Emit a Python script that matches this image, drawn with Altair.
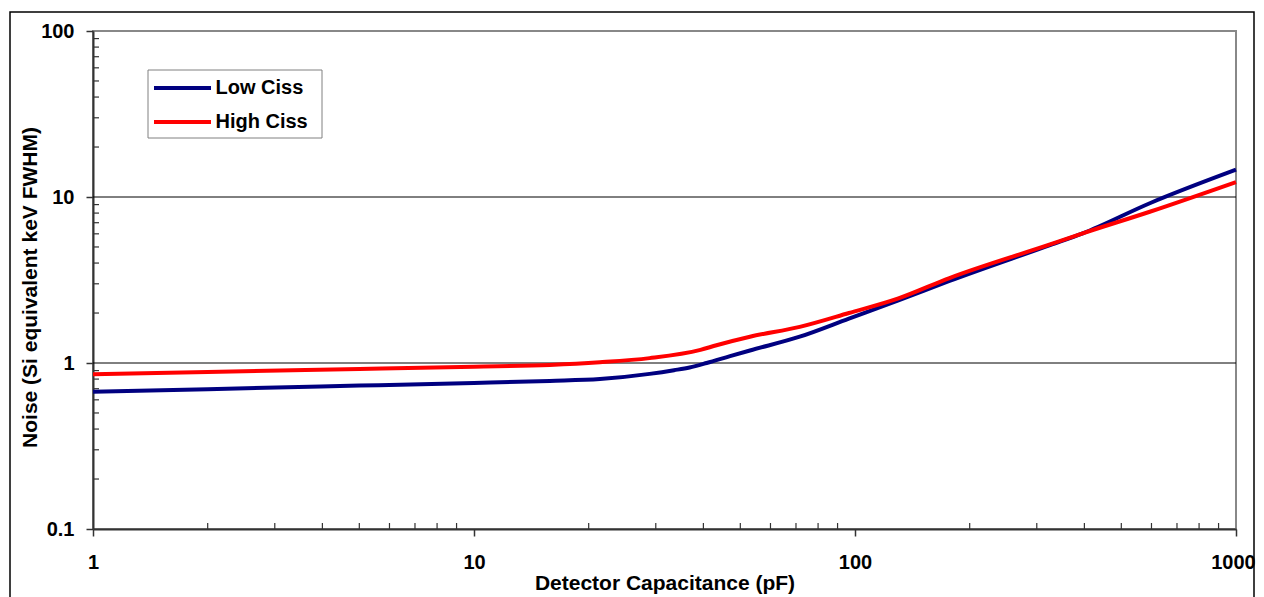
import altair as alt
import pandas as pd

# Detector capacitance (pF) sample points
cap_low = [1, 2, 5, 10, 15.8, 21.4, 28.9, 33.5, 36.8, 40.8, 47, 53, 71.6, 96.4, 130, 177, 325, 396, 594, 1000]
noise_low = [0.67, 0.695, 0.731, 0.759, 0.78, 0.80, 0.86, 0.905, 0.94, 1.0, 1.1, 1.19, 1.44, 1.85, 2.38, 3.12, 5.13, 6.04, 9.17, 14.6]
cap_high = [1, 2, 5, 10, 15.8, 21.4, 28.9, 39.3, 43.3, 53, 71.6, 96.4, 130, 177, 325, 396, 594, 1000]
noise_high = [0.855, 0.883, 0.921, 0.95, 0.973, 1.01, 1.07, 1.20, 1.28, 1.44, 1.65, 2.0, 2.45, 3.25, 5.18, 6.04, 8.15, 12.3]
series_names = ["Low Ciss", "High Ciss"]
series_colors = ["#000080", "#FF0000"]

x_major = [1, 10, 100, 1000]
y_major = [0.1, 1, 10, 100]
x_minor = [2, 3, 4, 5, 6, 7, 8, 9, 20, 30, 40, 50, 60, 70, 80, 90, 200, 300, 400, 500, 600, 700, 800, 900]
y_minor = [0.2, 0.3, 0.4, 0.5, 0.6, 0.7, 0.8, 0.9, 2, 3, 4, 5, 6, 7, 8, 9, 20, 30, 40, 50, 60, 70, 80, 90]
y_grid = [1, 10]

W, H = 1143, 498
FONT = "Liberation Sans"

df = pd.DataFrame({
    "cap": cap_low + cap_high,
    "noise": noise_low + noise_high,
    "series": [series_names[0]] * len(cap_low) + [series_names[1]] * len(cap_high),
})

x_scale = alt.Scale(type="log", domain=[1, 1000])
y_scale = alt.Scale(type="log", domain=[0.1, 100])

x_axis = alt.Axis(values=x_major, format="d", title="Detector Capacitance (pF)",
                  grid=False, tickSize=7, labelPadding=16, titlePadding=0,
                  labelFlush=False,
                  labelOffset={"condition": {"test": "datum.value == 1000", "value": -3}, "value": 0},
                  domainColor="#333333", domainWidth=2,
                  tickColor="#333333", tickWidth=1.5)
y_axis = alt.Axis(values=y_major, labelExpr="format(datum.value, '~g')",
                  title="Noise (Si equivalent keV FWHM)", grid=False, tickSize=7,
                  labelPadding=12, titlePadding=0, titleY=256, labelFlush=False,
                  domainColor="#333333", domainWidth=2, tickColor="#333333", tickWidth=1.5)

X = alt.X("v:Q", scale=x_scale, axis=x_axis)
Y = alt.Y("v:Q", scale=y_scale, axis=y_axis)

grid = alt.Chart(pd.DataFrame({"v": y_grid})).mark_rule(color="#000000", strokeWidth=1).encode(
    y=Y, x=alt.value(0), x2=alt.value(W))

xminor = alt.Chart(pd.DataFrame({"v": x_minor})).mark_rule(color="#333333", strokeWidth=1.2).encode(
    x=X, y=alt.value(H), y2=alt.value(H - 6))

yminor = alt.Chart(pd.DataFrame({"v": y_minor})).mark_rule(color="#333333", strokeWidth=1.2).encode(
    y=Y, x=alt.value(0), x2=alt.value(6))

lines = alt.Chart(df).mark_line(strokeWidth=4, interpolate="monotone").encode(
    x=alt.X("cap:Q", scale=x_scale, axis=x_axis),
    y=alt.Y("noise:Q", scale=y_scale, axis=y_axis),
    color=alt.Color("series:N", scale=alt.Scale(domain=series_names, range=series_colors),
                    sort=series_names, title=None,
                    legend=alt.Legend(orient="none", legendX=55, legendY=39,
                                      symbolType="M-2.85,0H2.85", symbolSize=400,
                                      symbolStrokeWidth=4, symbolOffset=16.5,
                                      labelFont=FONT, labelFontSize=20,
                                      labelFontWeight="bold", labelColor="#000000",
                                      strokeColor="transparent", fillColor="transparent",
                                      padding=6, rowPadding=12, labelOffset=21)),
)

# legend box behind the legend entries
legend_box = alt.Chart(pd.DataFrame({"a": [0]})).mark_rect(
    fill="#FFFFFF", stroke="#808080", strokeWidth=1).encode(
    x=alt.value(55), x2=alt.value(229), y=alt.value(39), y2=alt.value(107))

frame = alt.Chart(pd.DataFrame({"a": [0]})).mark_rect(
    fill="transparent", stroke="#000000", strokeWidth=1.5).encode(
    x=alt.value(-83), x2=alt.value(1161), y=alt.value(-19), y2=alt.value(620))

chart = alt.layer(grid, xminor, yminor, lines, legend_box, frame).properties(
    width=W, height=H,
    autosize=alt.AutoSizeParams(type="none"),
    padding={"left": 85, "top": 23, "right": 20, "bottom": 68},
).configure_view(
    stroke="#888888", strokeWidth=2
).configure_axis(
    labelFont=FONT, labelFontSize=20, labelFontWeight="bold", labelColor="#000000",
    titleFont=FONT, titleFontSize=21, titleFontWeight="bold", titleColor="#000000",
)

chart.save("out.html", embed_options={"renderer": "svg", "actions": False})
